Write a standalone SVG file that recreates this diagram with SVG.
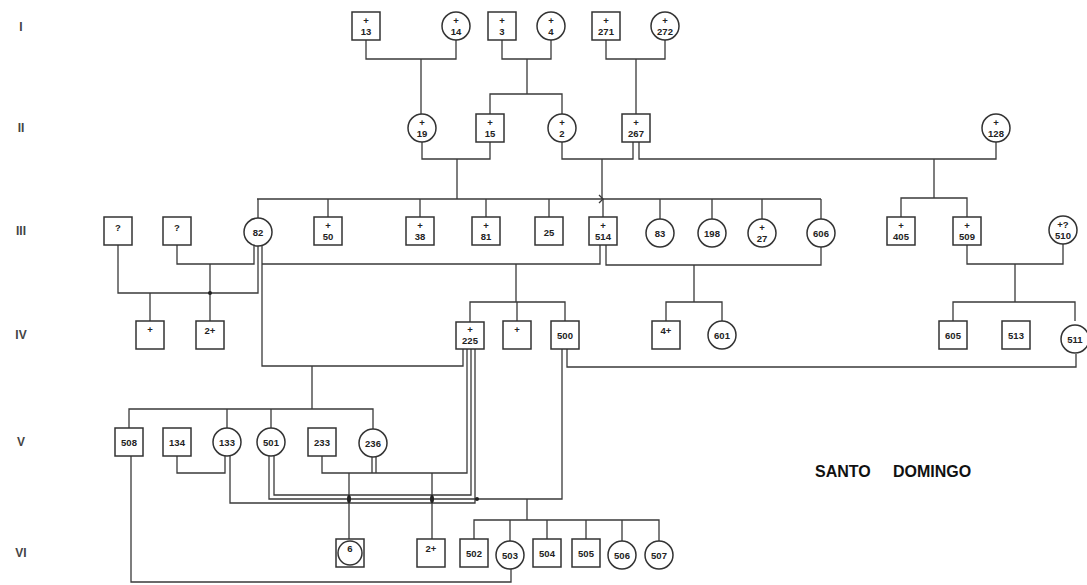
<svg xmlns="http://www.w3.org/2000/svg" width="1087" height="585" viewBox="0 0 1087 585">
<style>
.m{fill:#fff;stroke:#333;stroke-width:1.5}
.f{fill:#fff;stroke:#333;stroke-width:1.5}
.t{font-family:"Liberation Sans",Arial,sans-serif;font-size:9.5px;font-weight:bold;fill:#222;text-anchor:middle}
.g{font-family:"Liberation Sans",Arial,sans-serif;font-size:12px;font-weight:bold;fill:#444;text-anchor:middle}
.h{font-family:"Liberation Sans",Arial,sans-serif;font-size:16px;font-weight:bold;fill:#111}
.c path{fill:none;stroke:#3a3a3a;stroke-width:1.3}
.d{fill:#222}
</style>
<rect width="1087" height="585" fill="#fff"/>
<g id="gen-labels">
<text class="g" x="21" y="31">I</text>
<text class="g" x="21" y="132">II</text>
<text class="g" x="21" y="235">III</text>
<text class="g" x="21" y="339">IV</text>
<text class="g" x="21" y="446">V</text>
<text class="g" x="21" y="557">VI</text>
</g>
<g class="c" id="connectors">
<path d="M366 40V59H456V40M421 59V114"/>
<path d="M502 40V59H551V40M527 59V94M490 114V94H562V114"/>
<path d="M606 40V59H665V40M636 59V114"/>
<path d="M422 142V159H490V142M457 159V199"/>
<path d="M562 142V159H633V142M602 159V199"/>
<path d="M639 142V159H996V142M934 159V198M901 217V198H967V217"/>
<path d="M257 199H821M258 199V218M328 199V217M420 199V217M486 199V217M549 199V217M603 199V217M660 199V219M712 199V219M762 199V219M821 199V219"/>
<path d="M254 245V264H177V245M258 246V293H118V245M262 245V366H463V349"/>
<path d="M262 264H600V245M606 245V265H821V247"/>
<path d="M210 264V321M150 293V321"/>
<path d="M516 264V302M470 322V302H565V321M517 302V321"/>
<path d="M694 265V302M666 321V302H722V321"/>
<path d="M967 245V264H1063V244M1015 264V302M953 321V302H1075V321"/>
<path d="M567 349V367H1076V354"/>
<path d="M312 366V409M129 428V409H373V429M227 409V428M271 409V428"/>
<path d="M177 456V473H225V455"/>
<path d="M322 456V473H467V349M372 456V473M376 456V473"/>
<path d="M230 455V503H475V349"/>
<path d="M274 455V495H471V349"/>
<path d="M269 455V499H562V349"/>
<path d="M349 473V539M432 473V539"/>
<path d="M527 499V520M474 539V520H659V541M510 520V541M547 520V539M586 520V539M622 520V541"/>
<path d="M131 456V582H511V569"/>
<path d="M599 195L603 199L599 203"/>
</g>
<g id="dots">
<circle class="d" cx="210" cy="293" r="2"/>
<ellipse class="d" cx="349" cy="499" rx="2" ry="4"/>
<ellipse class="d" cx="432" cy="499" rx="2" ry="4"/>
<circle class="d" cx="477" cy="499" r="2"/>
</g>
<g id="n13"><rect class="m" x="352" y="12" width="28" height="28"/><text class="t" x="366" y="24">+</text><text class="t" x="366" y="35">13</text></g>
<g id="n14"><circle class="f" cx="456" cy="26" r="14"/><text class="t" x="456" y="24">+</text><text class="t" x="456" y="35">14</text></g>
<g id="n3"><rect class="m" x="488" y="12" width="28" height="28"/><text class="t" x="502" y="24">+</text><text class="t" x="502" y="35">3</text></g>
<g id="n4"><circle class="f" cx="551" cy="26" r="14"/><text class="t" x="551" y="24">+</text><text class="t" x="551" y="35">4</text></g>
<g id="n271"><rect class="m" x="592" y="12" width="28" height="28"/><text class="t" x="606" y="24">+</text><text class="t" x="606" y="35">271</text></g>
<g id="n272"><circle class="f" cx="665" cy="26" r="14"/><text class="t" x="665" y="24">+</text><text class="t" x="665" y="35">272</text></g>
<g id="n19"><circle class="f" cx="422" cy="128" r="14"/><text class="t" x="422" y="126">+</text><text class="t" x="422" y="137">19</text></g>
<g id="n15"><rect class="m" x="476" y="114" width="28" height="28"/><text class="t" x="490" y="126">+</text><text class="t" x="490" y="137">15</text></g>
<g id="n2"><circle class="f" cx="562" cy="128" r="14"/><text class="t" x="562" y="126">+</text><text class="t" x="562" y="137">2</text></g>
<g id="n267"><rect class="m" x="622" y="114" width="28" height="28"/><text class="t" x="636" y="126">+</text><text class="t" x="636" y="137">267</text></g>
<g id="n128"><circle class="f" cx="996" cy="128" r="14"/><text class="t" x="996" y="126">+</text><text class="t" x="996" y="137">128</text></g>
<g id="nq1"><rect class="m" x="104" y="217" width="28" height="28"/><text class="t" x="118" y="231">?</text></g>
<g id="nq2"><rect class="m" x="163" y="217" width="28" height="28"/><text class="t" x="177" y="231">?</text></g>
<g id="n82"><circle class="f" cx="258" cy="232" r="14"/><text class="t" x="258" y="236">82</text></g>
<g id="n50"><rect class="m" x="314" y="217" width="28" height="28"/><text class="t" x="328" y="229">+</text><text class="t" x="328" y="240">50</text></g>
<g id="n38"><rect class="m" x="406" y="217" width="28" height="28"/><text class="t" x="420" y="229">+</text><text class="t" x="420" y="240">38</text></g>
<g id="n81"><rect class="m" x="472" y="217" width="28" height="28"/><text class="t" x="486" y="229">+</text><text class="t" x="486" y="240">81</text></g>
<g id="n25"><rect class="m" x="535" y="217" width="28" height="28"/><text class="t" x="549" y="236">25</text></g>
<g id="n514"><rect class="m" x="589" y="217" width="28" height="28"/><text class="t" x="603" y="229">+</text><text class="t" x="603" y="240">514</text></g>
<g id="n83"><circle class="f" cx="660" cy="233" r="14"/><text class="t" x="660" y="237">83</text></g>
<g id="n198"><circle class="f" cx="712" cy="233" r="14"/><text class="t" x="712" y="237">198</text></g>
<g id="n27"><circle class="f" cx="762" cy="233" r="14"/><text class="t" x="762" y="231">+</text><text class="t" x="762" y="242">27</text></g>
<g id="n606"><circle class="f" cx="821" cy="233" r="14"/><text class="t" x="821" y="237">606</text></g>
<g id="n405"><rect class="m" x="887" y="217" width="28" height="28"/><text class="t" x="901" y="229">+</text><text class="t" x="901" y="240">405</text></g>
<g id="n509"><rect class="m" x="953" y="217" width="28" height="28"/><text class="t" x="967" y="229">+</text><text class="t" x="967" y="240">509</text></g>
<g id="n510"><circle class="f" cx="1063" cy="230" r="14"/><text class="t" x="1063" y="228">+?</text><text class="t" x="1063" y="239">510</text></g>
<g id="n4a"><rect class="m" x="136" y="321" width="28" height="28"/><text class="t" x="150" y="333">+</text></g>
<g id="n4b"><rect class="m" x="196" y="321" width="28" height="28"/><text class="t" x="210" y="334">2+</text></g>
<g id="n225"><rect class="m" x="456" y="322" width="28" height="27"/><text class="t" x="470" y="333">+</text><text class="t" x="470" y="344">225</text></g>
<g id="n4c"><rect class="m" x="503" y="321" width="28" height="28"/><text class="t" x="517" y="333">+</text></g>
<g id="n500"><rect class="m" x="551" y="321" width="28" height="28"/><text class="t" x="565" y="339">500</text></g>
<g id="n4d"><rect class="m" x="652" y="321" width="28" height="28"/><text class="t" x="666" y="334">4+</text></g>
<g id="n601"><circle class="f" cx="722" cy="335" r="14"/><text class="t" x="722" y="339">601</text></g>
<g id="n605"><rect class="m" x="939" y="321" width="28" height="28"/><text class="t" x="953" y="339">605</text></g>
<g id="n513"><rect class="m" x="1002" y="321" width="28" height="28"/><text class="t" x="1016" y="339">513</text></g>
<g id="n511"><circle class="f" cx="1075" cy="339" r="14"/><text class="t" x="1075" y="343">511</text></g>
<g id="n508"><rect class="m" x="115" y="428" width="28" height="28"/><text class="t" x="129" y="446">508</text></g>
<g id="n134"><rect class="m" x="163" y="428" width="28" height="28"/><text class="t" x="177" y="446">134</text></g>
<g id="n133"><circle class="f" cx="227" cy="442" r="14"/><text class="t" x="227" y="446">133</text></g>
<g id="n501"><circle class="f" cx="271" cy="442" r="14"/><text class="t" x="271" y="446">501</text></g>
<g id="n233"><rect class="m" x="308" y="428" width="28" height="28"/><text class="t" x="322" y="446">233</text></g>
<g id="n236"><circle class="f" cx="373" cy="443" r="14"/><text class="t" x="373" y="447">236</text></g>
<g id="n6"><rect class="m" x="336" y="539" width="28" height="28"/><circle class="f" cx="350" cy="553" r="12"/><text class="t" x="350" y="552">6</text></g>
<g id="n6b"><rect class="m" x="417" y="539" width="28" height="28"/><text class="t" x="431" y="552">2+</text></g>
<g id="n502"><rect class="m" x="460" y="539" width="28" height="28"/><text class="t" x="474" y="557">502</text></g>
<g id="n503"><circle class="f" cx="510" cy="555" r="14"/><text class="t" x="510" y="559">503</text></g>
<g id="n504"><rect class="m" x="533" y="539" width="28" height="28"/><text class="t" x="547" y="557">504</text></g>
<g id="n505"><rect class="m" x="572" y="539" width="28" height="28"/><text class="t" x="586" y="557">505</text></g>
<g id="n506"><circle class="f" cx="622" cy="555" r="14"/><text class="t" x="622" y="559">506</text></g>
<g id="n507"><circle class="f" cx="659" cy="555" r="14"/><text class="t" x="659" y="559">507</text></g>
<g id="title">
<text class="h" x="815" y="477">SANTO</text>
<text class="h" x="893" y="477">DOMINGO</text>
</g>
</svg>
